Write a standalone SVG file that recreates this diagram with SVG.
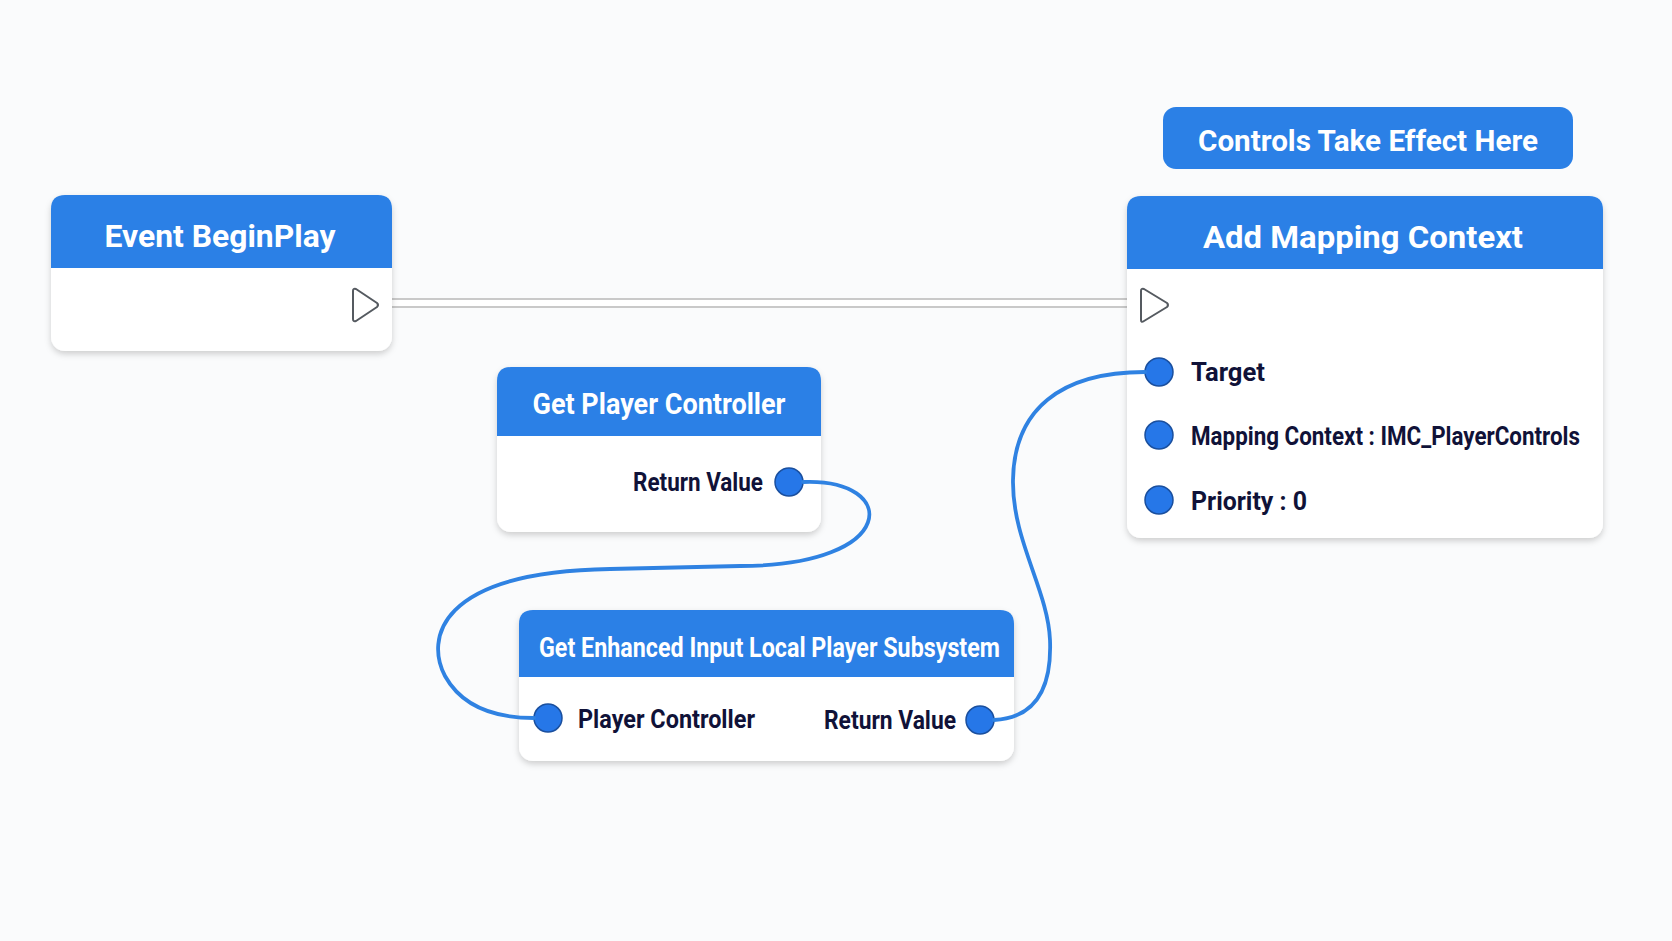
<svg xmlns="http://www.w3.org/2000/svg" width="1672" height="941" viewBox="0 0 1672 941">
<defs>
<filter id="sh" x="-10%" y="-10%" width="120%" height="130%">
<feDropShadow dx="0" dy="3" stdDeviation="3" flood-color="#000" flood-opacity="0.18"/>
</filter>
<style>
.body{fill:#ffffff;filter:url(#sh)}
.hdr{fill:#2b80e6}
.title{font-family:Roboto,"Liberation Sans",sans-serif;font-weight:bold;fill:#ffffff;text-anchor:middle}
.lbl{font-family:Roboto,"Liberation Sans",sans-serif;font-weight:bold;fill:#101238;font-size:26px}
.pin{fill:#2677e8;stroke:#1a4f9e;stroke-width:1.5}
.exec{fill:#ffffff;stroke:#555a60;stroke-width:2;stroke-linejoin:round}
.wire{fill:none;stroke:#2f82e2;stroke-width:3.8;stroke-linecap:round}
</style>
</defs>
<rect width="1672" height="941" fill="#fafbfc"/>

<g id="exec-line">
<path d="M392 303 H1127" stroke="#c9c9c9" stroke-width="10" fill="none"/>
<path d="M392 303 H1127" stroke="#ffffff" stroke-width="6" fill="none"/>
</g>

<g id="label-controls">
<rect x="1163" y="107" width="410" height="62" rx="13" fill="#2b80e6"/>
<text class="title" x="1368" y="151" font-size="29" textLength="340" lengthAdjust="spacingAndGlyphs">Controls Take Effect Here</text>
</g>

<g id="node-event-beginplay">
<rect class="body" x="51" y="195" width="341" height="156" rx="14"/>
<path class="hdr" d="M51 268 V209 Q51 195 65 195 H378 Q392 195 392 209 V268 Z"/>
<text class="title" x="220" y="247" font-size="32" textLength="231" lengthAdjust="spacingAndGlyphs">Event BeginPlay</text>
<path class="exec" d="M353 291 Q353 288 356 289 L377 303 Q379 305 377 307 L356 321 Q353 322 353 319 Z"/>
</g>

<g id="node-add-mapping-context">
<rect class="body" x="1127" y="196" width="476" height="342" rx="14"/>
<path class="hdr" d="M1127 269 V210 Q1127 196 1141 196 H1589 Q1603 196 1603 210 V269 Z"/>
<text class="title" x="1363" y="248" font-size="32" textLength="320" lengthAdjust="spacingAndGlyphs">Add Mapping Context</text>
<path class="exec" d="M1141 291 Q1141 288 1144 289 L1167 303 Q1169 305 1167 307 L1144 321 Q1141 323 1141 320 Z"/>
<circle class="pin" cx="1159" cy="372" r="14"/>
<text class="lbl" x="1191" y="381" textLength="74" lengthAdjust="spacingAndGlyphs">Target</text>
<circle class="pin" cx="1159" cy="435" r="14"/>
<text class="lbl" x="1191" y="445" textLength="389" lengthAdjust="spacingAndGlyphs">Mapping Context : IMC_PlayerControls</text>
<circle class="pin" cx="1159" cy="500" r="14"/>
<text class="lbl" x="1191" y="510" textLength="116" lengthAdjust="spacingAndGlyphs">Priority : 0</text>
</g>

<g id="node-get-player-controller">
<rect class="body" x="497" y="367" width="324" height="165" rx="14"/>
<path class="hdr" d="M497 436 V381 Q497 367 511 367 H807 Q821 367 821 381 V436 Z"/>
<text class="title" x="659" y="414" font-size="29" textLength="253" lengthAdjust="spacingAndGlyphs">Get Player Controller</text>
<text class="lbl" x="633" y="491" textLength="130" lengthAdjust="spacingAndGlyphs">Return Value</text>
<circle class="pin" cx="789" cy="482" r="14"/>
</g>

<g id="node-get-enhanced-input">
<rect class="body" x="519" y="610" width="495" height="151" rx="14"/>
<path class="hdr" d="M519 677 V624 Q519 610 533 610 H1000 Q1014 610 1014 624 V677 Z"/>
<text class="title" x="769.5" y="657" font-size="28" textLength="461" lengthAdjust="spacingAndGlyphs">Get Enhanced Input Local Player Subsystem</text>
<circle class="pin" cx="548" cy="718" r="14"/>
<text class="lbl" x="578" y="728" textLength="177" lengthAdjust="spacingAndGlyphs">Player Controller</text>
<text class="lbl" x="824" y="729" textLength="132" lengthAdjust="spacingAndGlyphs">Return Value</text>
<circle class="pin" cx="980" cy="720" r="14"/>
</g>

<g id="connectors">
<path class="wire" d="M803 482 C900 478, 900 566, 740 566 L610 569 C436 572, 426 640, 445 676 C465 712, 505 718, 534 718"/>
<path class="wire" d="M994 720 C1034 718, 1052 690, 1050 640 C1048 590, 1012 540, 1013 480 C1014 410, 1060 372, 1145 372"/>
</g>
</svg>
